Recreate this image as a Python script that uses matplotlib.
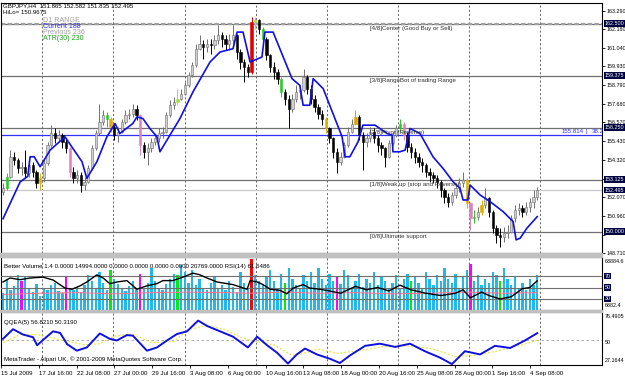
import matplotlib
matplotlib.use('Agg')
import matplotlib.pyplot as plt
import matplotlib.transforms as mtrans

plt.rcParams['font.family'] = ['Liberation Sans', 'DejaVu Sans']

# ---------------- DATA ----------------
symbol_line = "GBPJPY,H4  151.865 152.582 151.835 152.495"
hilo_line = "HiLo= 150.9675"

open0 = 152.4
closes = [152.6,153.3,154.5,154.3,153.8,153.9,153.5,154.0,153.6,152.9,153.2,154.1,155.2,155.9,155.6,155.8,155.4,155.0,153.6,153.2,153.4,152.8,153.0,153.8,155.0,155.9,156.6,157.0,156.8,156.3,155.8,156.0,156.6,157.0,157.1,157.4,157.0,
          155.2,154.8,155.0,155.4,155.6,155.9,156.0,157.0,157.6,157.8,158.0,158.3,158.8,159.4,160.0,161.0,161.3,161.1,161.3,161.2,161.5,161.8,161.6,161.3,161.5,161.8,160.8,160.2,159.9,159.6,162.6,162.7,162.2,161.6,160.6,
          159.9,159.6,159.2,158.4,158.0,157.4,158.0,158.4,158.5,159.3,158.6,158.0,157.5,157.1,156.8,156.2,155.6,154.8,154.2,154.5,155.2,156.0,156.5,156.9,155.8,155.4,155.6,156.0,155.6,155.2,155.0,154.5,155.3,155.8,156.2,156.5,
          155.8,155.1,154.8,154.5,154.2,154.0,153.6,153.4,153.2,153.0,152.5,152.1,151.8,152.2,152.6,152.9,153.1,151.7,150.8,150.9,151.2,151.6,152.0,151.2,150.2,149.8,149.7,149.9,150.0,150.8,151.3,151.4,151.2,151.5,151.8,152.1,152.495]
highs = [152.9,153.5,154.9,154.8,154.4,154.2,154.9,154.3,154.2,153.7,153.5,154.3,155.4,156.4,156.2,156.1,155.9,155.6,155.1,153.9,153.7,153.6,153.3,154.0,155.2,156.1,157.7,157.3,157.2,156.9,156.5,156.3,156.8,157.3,157.4,157.7,157.6,
         157.1,155.4,155.3,155.6,155.9,156.2,156.3,157.2,157.9,158.1,158.6,158.6,159.0,159.6,160.2,161.3,161.8,161.5,161.6,161.6,161.8,162.4,162.0,161.8,161.9,162.4,161.9,161.0,160.4,160.1,162.9,162.9,162.8,162.3,161.7,
         160.7,160.2,159.8,159.3,158.6,158.2,158.3,158.8,158.8,159.8,159.4,158.8,158.2,157.7,157.3,156.9,156.3,155.7,155.0,154.8,155.4,156.3,156.8,157.3,157.0,156.0,155.9,156.3,156.2,155.8,155.4,155.1,155.5,156.0,156.4,156.8,
         156.6,156.0,155.3,155.0,154.7,154.4,154.1,153.8,153.6,153.4,153.1,152.6,152.3,152.4,152.8,153.2,153.6,153.2,151.8,151.3,151.5,151.9,152.6,152.1,151.3,150.4,150.2,150.3,150.4,151.0,151.6,151.7,151.6,151.8,152.0,152.5,152.7]
lows = [152.2,152.5,153.2,154.0,153.5,153.4,153.2,153.3,153.3,152.6,152.5,153.0,154.0,155.1,155.3,155.4,155.0,154.7,153.3,152.9,152.9,152.4,152.5,152.9,153.7,154.9,155.8,156.4,156.3,156.0,155.5,155.4,155.9,156.5,156.8,156.9,156.7,
        154.6,154.4,154.0,154.8,155.2,155.4,155.6,155.9,156.9,157.4,157.6,157.9,158.2,158.7,159.3,159.9,160.9,160.4,160.8,160.7,161.0,161.3,161.1,160.9,161.0,161.3,160.4,159.8,159.0,159.3,159.5,162.2,161.9,161.2,160.3,
        159.6,159.2,158.9,158.1,157.6,156.2,157.2,157.8,158.0,158.4,158.3,157.7,157.2,156.8,156.4,155.9,155.3,154.4,153.5,154.0,154.4,155.1,155.9,156.4,155.5,153.7,155.1,155.4,155.3,154.8,154.6,153.9,154.4,155.2,155.7,156.0,
        155.5,154.8,154.4,154.1,153.9,153.6,153.3,153.0,152.9,152.6,152.1,151.7,151.5,151.6,152.0,152.4,152.7,151.4,150.1,150.5,150.7,151.0,151.4,150.9,149.9,149.3,149.1,149.4,149.6,149.9,150.6,151.0,150.9,151.0,151.2,151.4,151.9]

# special highlighted candles (bar index, colour)
candle_special = [(1,'#22cc22'),(10,'#e0b000'),(18,'#e080c0'),(28,'#22cc22'),(29,'#e0b000'),(37,'#e080c0'),
                  (47,'#a0e040'),(67,'#e00000'),(68,'#a0e040'),(70,'#22cc22'),(75,'#22cc22'),(87,'#e0b000'),
                  (95,'#e0a000'),(107,'#22cc22'),(108,'#e080c0'),(125,'#e0b000'),(126,'#e080c0'),(127,'#22cc22'),(129,'#e0b000')]

# blue envelope line (bar index, price)
env_idx = [0,4.6,6.7,7.3,8.4,10,12.7,16.7,21.3,22.6,25.3,28,30.2,31.5,35,36.1,37.7,39.6,41.5,42.3,47.7,51.2,55.8,58.5,62,63.1,64.7,66.6,69.8,70.6,72.8,77.9,80,80.9,82.7,83.6,86.3,91.4,92.2,93.5,95.7,97,100.3,103.5,104.9,105.1,107,108.4,109.7,112.4,115.9,118.6,121.3,123.2,124,125.3,125.9,128.6,131.3,134.8,137.5,138.3,139.4,141.2,144]
env_val = [150.77,152.98,153.33,154.5,154.5,153.9,154.9,155.7,154.2,153.2,154.2,155.7,156.5,155.9,156.5,156.9,156.8,156.2,155.7,154.8,156.8,158.4,160.2,160.8,161.0,162.0,162.0,160.2,160.5,162.0,162.0,159.2,158.8,157.6,157.6,159.2,158.6,155.7,154.5,154.5,155.4,156.4,156.4,155.9,155.8,154.8,154.8,154.9,156.2,155.9,154.5,153.8,153.0,152.6,151.9,151.9,152.8,152.2,151.8,151.2,150.6,149.5,149.6,150.2,150.9]

murrey_levels = [162.5, 159.375, 156.25, 153.125, 150.0]
murrey_labels = ["[4/8]Center (Good Buy or Sell)", "[3/8]RangeBot of trading Range", "[2/8]Pivot (Reverse)",
                 "[1/8]Weak up (stop and Reverse)", "[0/8]Ultimate support"]
fib_level = 155.814
fib_value_text = "155.814"
fib_ratio_text = "38.2"
current_price = 152.495
price_ticks = [163.290,162.180,161.040,159.930,158.790,157.680,156.570,155.430,154.320,153.180,152.070,150.960,149.820,148.710]
hidden_ticks = [153.180, 149.820]   # covered by level boxes in the reference

d1_lines = [("D1 RANGE", '#a0a0a0'), ("Current 188", '#3030ff'), ("Previous 236", '#a0a0a0'), ("ATR(30) 230", '#20a020')]

# Better Volume (thousands) per bar
volumes = [25,40,28,33,45,38,42,30,26,35, 22,30,28,34,36,27,25,42,30,28, 32,26,34,45,38,30,48,36,28,50,
           40,35,30,27,33,38,29,46,30,36, 52,38,30,28,35,40,46,44,55,48, 36,50,34,40,30,28,36,42,30,34,
           28,38,32,26,48,36,30,62,44,38, 35,42,50,38,30,46,36,52,40,34, 30,44,38,48,36,52,40,34,46,38,
           42,35,50,44,30,38,46,32,40,36, 48,34,42,38,30,36,44,30,40,46, 38,42,36,30,48,40,34,44,38,52,
           40,36,46,30,42,50,56,38,44,34, 40,36,48,44,38,52,40,34,42,30, 36,28,40,34,44]
vol_special = [(5,'#ff00ff'),(17,'#ff00ff'),(29,'#00ee00'),(37,'#ff00ff'),(47,'#00ee00'),(67,'#ff0000'),
               (76,'#00ee00'),(90,'#ff00ff'),(110,'#00ee00'),(126,'#ff00ff'),(134,'#00ee00')]
vol_header = "Better Volume 1.4 0.0000 14994.0000 0.0000 0.0000 0.0000 0.0000 20769.0000 RSI(14) 61.6486"
vol_max, vol_min = 63884.6, 6882.4
rsi_levels = [70, 50, 30]

rsi_idx = [0,1.9,4.6,7.3,10.8,13.5,16.7,18.6,20.8,22.6,25.3,27,28.8,30.7,33.4,36.1,38.8,41.5,43.1,45.8,48.5,51.2,53.1,55,57.7,60.4,62,65.8,66.6,68.5,70.1,72,74.7,76.5,78.2,80.9,82.7,85.4,88,91,95,98,101,104,107,110,114,118,122,124,126,129,131,134,137,140,142,144]
rsi_val = [59.6,66.5,63.6,66.5,68,63,49,47,53,59.6,72,66.5,56.7,59.6,62,47,53,56.7,62,62,68,75,72,66.5,59.6,56.7,55,47,62,59.6,55,47,45,39,49,55,49,47,44,40,52,46,50,44,54,46,40,36,40,46,32,42,36,30,34,48,50,61.65]
rsi_ma_idx = [0,10,20,30,40,50,60,67,75,85,95,105,115,125,135,144]
rsi_ma_val = [38,40,41,39,41,42,41,40,42,40,41,39,40,42,40,41]

qqe_header = "QQEA(5) 56.8210 50.3190"
qqe_max, qqe_min = 76.4905, 27.1644
qqe_idx = [0,2.7,5.4,8.1,9.2,10.8,13.5,15.4,17.3,19.9,22.6,26.1,28.8,30.7,33.4,35,38.8,41.5,44.2,46.9,49.6,52.6,55,58.5,62,66,68.5,71.2,73.9,76.8,79.2,81.4,84.6,88.1,90.8,93.5,97.6,101.6,105.7,109.7,113.7,117.8,121,124.5,128.6,132.6,136.7,140.7,144]
qqe_val = [51.5,60.5,55.5,53,45.5,50.5,58.5,57,46.5,40.5,43.5,56.5,51.5,50,55,54.5,40.5,43.5,50,56,58.5,68.5,63.5,58.5,53.5,43.5,53.5,45.5,38.5,28.5,37,42.5,37,33,29,36,45,47,44,47,40,34,28,40,37,45,43,50,56.82]
qqe_slow_idx = [0,5,10,16,22,26,30,35,40,46,50,55,60,64,68,73,78,82,85,90,95,102,110,116,122,127,133,140,144]
qqe_slow_val = [48,56,55,50,46,47,54,56,48,49,60,64,60,53,49,46,36,39,42,38,40,44,45,42,35,36,40,46,50.32]

date_labels = ["15 Jul 2009","17 Jul 16:00","22 Jul 08:00","27 Jul 00:00","29 Jul 16:00","3 Aug 08:00",
               "6 Aug 00:00","10 Aug 16:00","13 Aug 08:00","18 Aug 00:00","20 Aug 16:00","25 Aug 08:00",
               "28 Aug 00:00","1 Sep 16:00","4 Sep 08:00"]
footer = "MetaTrader - Alpari UK, \u00a9 2001-2009 MetaQuotes Software Corp."

# ---------------- LAYOUT ----------------
W, H = 625, 378
fig = plt.figure(figsize=(W/100, H/100), dpi=100)
fig.patch.set_facecolor('white')
FS = 4.4     # general text
FR = 3.9     # right scale labels
PX = 3.71    # pixel per bar
X0 = 3.0     # pixel of first bar

def ax_px(x0, y0, x1, y1):
    return fig.add_axes([x0/W, 1 - y1/H, (x1 - x0)/W, (y1 - y0)/H])

AL, AR = 1, 602
xlim = ((AL - X0)/PX, (AR - X0)/PX)

ax = ax_px(AL, 3, AR, 253)
axv = ax_px(AL, 257, AR, 310)
axq = ax_px(AL, 312, AR, 365)

for a in (ax, axv, axq):
    a.set_xlim(*xlim)
    a.set_facecolor('white')
    for s in a.spines.values():
        s.set_color('black'); s.set_linewidth(0.8)
    a.tick_params(axis='x', bottom=False, labelbottom=False)
    for gx in [42, 113, 185, 256, 327, 398, 469, 540]:
        a.axvline((gx - X0)/PX, color='#505050', lw=0.6, ls=(0, (2.5, 2.5)), zorder=0.5)

fig.patches.append(plt.Rectangle((0, 1 - 257/H), AR/W, 4/H, transform=fig.transFigure, color='#c0c0c0', zorder=0))
fig.patches.append(plt.Rectangle((0, 1 - 312/H), AR/W, 2/H, transform=fig.transFigure, color='#c0c0c0', zorder=0))

# ---------------- MAIN PANEL ----------------
py = lambda ypx: (2754 - ypx)/16.8
ax.set_ylim(py(253), py(3))
n = len(closes)
opens = [open0] + closes[:-1]
xs = list(range(n))
special = dict(candle_special)
body_col, edge_col, wick_col = [], [], []
for i in xs:
    if i in special:
        c = special[i]; body_col.append(c); edge_col.append(c); wick_col.append(c)
    elif closes[i] >= opens[i]:
        body_col.append('#d0d0d0'); edge_col.append('#707070'); wick_col.append('#707070')
    else:
        body_col.append('#000000'); edge_col.append('#000000'); wick_col.append('#000000')
ax.vlines(xs, lows, highs, colors=wick_col, lw=0.7, zorder=3)
ax.bar(xs, [c - o if abs(c - o) > 0.03 else 0.05 for o, c in zip(opens, closes)], bottom=opens,
       width=0.62, color=body_col, edgecolor=edge_col, linewidth=0.4, zorder=4)

ax.plot(env_idx, env_val, color='#1010e0', lw=1.2, zorder=5)

for lv in murrey_levels:
    ax.axhline(lv, color='#707070', lw=0.9, zorder=2)
ax.axhline(murrey_levels[0], color='#a0a0a0', lw=1.6, ls=(0, (2, 1)), zorder=2)
ax.axhline(fib_level, color='#3030ff', lw=0.9, zorder=2)
ax.axhline(current_price, color='#c8c8c8', lw=0.9, zorder=1)

for lv, lab in zip(murrey_levels, murrey_labels):
    ax.text((370 - X0)/PX, lv - 0.12, lab, fontsize=FS, color='#303030', va='top', ha='left', zorder=6)
ax.text((562 - X0)/PX, fib_level + 0.04, fib_value_text, fontsize=FS, color='#3030ff', va='bottom', ha='left', zorder=6)
ax.text((586 - X0)/PX, fib_level + 0.04, "|", fontsize=FS, color='#3030ff', va='bottom', ha='left', zorder=6)
ax.text((592 - X0)/PX, fib_level + 0.04, fib_ratio_text, fontsize=FS, color='#3030ff', va='bottom', ha='left', zorder=6)

ax.yaxis.tick_right()
ax.set_yticks(price_ticks)
ax.set_yticklabels(["" if v in hidden_ticks else f"{v:.3f}" for v in price_ticks])
ax.tick_params(axis='y', right=True, left=False, length=2, width=0.6, pad=1.0, labelsize=FR, colors='black')

btrans = mtrans.blended_transform_factory(ax.transAxes, ax.transData)
for lv in murrey_levels + [current_price]:
    ax.text(1.004, lv, f"{lv:.3f}", transform=btrans, fontsize=FR, color='white', va='center', ha='left',
            bbox=dict(boxstyle='square,pad=0.15', fc='#000040', ec='none'), zorder=10, clip_on=False)

fig.text(3/W, 1 - 6/H, symbol_line, fontsize=FS, va='center', ha='left', color='black')
fig.text(3/W, 1 - 13/H, hilo_line, fontsize=FS, va='center', ha='left', color='black')
for k, (t, c) in enumerate(d1_lines):
    fig.text(43/W, 1 - (20 + 6.2*k)/H, t, fontsize=5.1, va='center', ha='left', color=c)

# ---------------- VOLUME / RSI PANEL ----------------
axv.set_ylim(vol_min, vol_max)
vspecial = dict(vol_special)
vcols = [vspecial.get(i, '#22b8ee') for i in xs]
axv.bar(xs, [v*1000 - vol_min for v in volumes], bottom=vol_min, width=0.62, color=vcols, linewidth=0, zorder=2)
axv.set_yticks([])
axr = axv.twinx()
axr.set_xlim(*xlim)
axr.set_ylim(30 - 11*40/23, 70 + 19*40/23)
axr.set_yticks([])
for s in axr.spines.values():
    s.set_visible(False)
for lv in rsi_levels:
    axr.axhline(lv, color='#707070', lw=0.8, zorder=3)
axr.plot(rsi_ma_idx, rsi_ma_val, color='#ff7090', lw=0.8, zorder=4)
axr.plot(rsi_idx, rsi_val, color='black', lw=1.0, zorder=5)
axv.text(3/(AR-AL), 0.83, vol_header, transform=axv.transAxes, fontsize=FS, va='center', ha='left', zorder=10)
rtrans = mtrans.blended_transform_factory(axr.transAxes, axr.transData)
for lv in rsi_levels:
    axr.text(1.004, lv, f"{lv}", transform=rtrans, fontsize=FR, color='white', va='center', ha='left',
             bbox=dict(boxstyle='square,pad=0.15', fc='#000040', ec='none'), clip_on=False)
axv.text(1.004, 0.97, f"{vol_max:.1f}", transform=axv.transAxes, fontsize=FR, va='top', ha='left', clip_on=False)
axv.text(1.004, 0.03, f"{vol_min:.1f}", transform=axv.transAxes, fontsize=FR, va='bottom', ha='left', clip_on=False)

# ---------------- QQEA PANEL ----------------
axq.set_ylim(qqe_min, qqe_max)
axq.set_yticks([])
axq.axhline(50, color='#a0a0a0', lw=0.6, ls=(0, (3, 3)), zorder=1)
axq.plot(qqe_slow_idx, qqe_slow_val, color='#e8e840', lw=0.9, ls=(0, (1.5, 1.5)), zorder=2)
axq.plot(qqe_idx, qqe_val, color='#1010e0', lw=1.4, zorder=3)
axq.text(3/(AR-AL), 0.80, qqe_header, transform=axq.transAxes, fontsize=FS, va='center', ha='left')
axq.text(3/(AR-AL), 0.05, footer, transform=axq.transAxes, fontsize=FS, va='bottom', ha='left')
axq.text(1.004, 0.97, f"{qqe_max:.4f}", transform=axq.transAxes, fontsize=FR, va='top', ha='left', clip_on=False)
axq.text(1.004, 50, "50", transform=mtrans.blended_transform_factory(axq.transAxes, axq.transData),
         fontsize=FR, va='top', ha='left', clip_on=False)
axq.text(1.004, 0.03, f"{qqe_min:.4f}", transform=axq.transAxes, fontsize=FR, va='bottom', ha='left', clip_on=False)

# date axis
tick_pos = [(1 + 37.8*k - X0)/PX for k in range(len(date_labels))]
axq.set_xticks(tick_pos)
axq.set_xticklabels(date_labels)
axq.tick_params(axis='x', bottom=True, labelbottom=True, length=2.5, width=0.6, pad=1.5, labelsize=FS)
for lab in axq.get_xticklabels():
    lab.set_horizontalalignment('left')

fig.savefig('out.png', dpi=100, facecolor='white')
